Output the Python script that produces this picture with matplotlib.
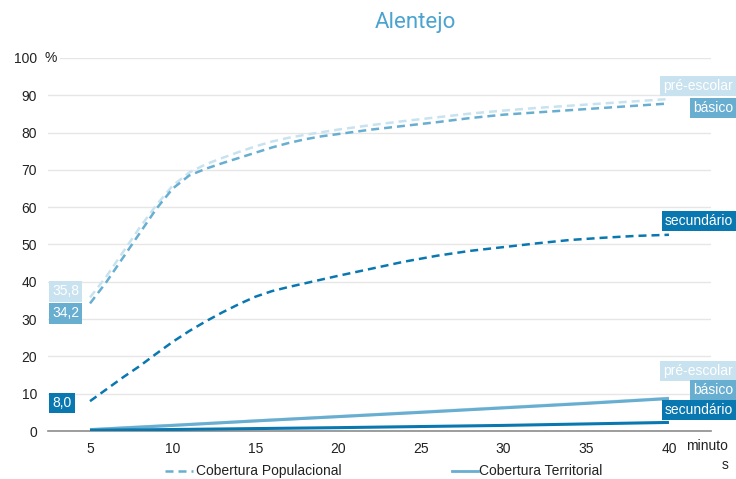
import matplotlib
matplotlib.use("Agg")
import matplotlib.pyplot as plt
from matplotlib import transforms

plt.rcParams['font.family'] = ['Liberation Sans', 'DejaVu Sans']

# Minutes of travel time (population coverage readings)
minutes = [5, 6, 7, 8, 9, 10, 11, 12, 13, 14, 15, 16, 17, 18, 19, 20,
           22, 24, 26, 28, 30, 32, 34, 36, 38, 40]

# Population coverage (%) by school level
pop_pre = [35.8, 41.5, 48.0, 54.5, 60.5, 65.8, 69.3, 71.5, 73.2, 74.8, 76.3,
           77.6, 78.6, 79.4, 80.1, 80.8, 82.0, 83.1, 84.1, 85.1, 85.9, 86.6,
           87.2, 87.8, 88.4, 89.0]
pop_bas = [34.2, 40.0, 46.5, 53.0, 59.5, 65.0, 68.5, 70.3, 71.8, 73.2, 74.6,
           76.0, 77.2, 78.2, 79.0, 79.6, 80.8, 81.8, 82.8, 83.9, 84.8, 85.4,
           86.0, 86.6, 87.2, 87.8]
pop_sec = [8.0, 11.2, 14.4, 17.4, 20.7, 23.9, 26.8, 29.4, 31.8, 34.0, 36.0,
           37.5, 38.6, 39.6, 40.6, 41.6, 43.5, 45.4, 47.0, 48.3, 49.3, 50.3,
           51.2, 51.8, 52.3, 52.6]

# Minutes of travel time (territorial coverage readings)
minutes_ter = [5, 10, 15, 20, 25, 30, 35, 40]

# Territorial coverage (%) by school level
ter_pre = [0.4, 1.55, 2.75, 3.9, 5.1, 6.3, 7.5, 8.8]
ter_bas = [0.35, 1.5, 2.7, 3.85, 5.0, 6.2, 7.4, 8.7]
ter_sec = [0.2, 0.4, 0.65, 0.9, 1.2, 1.5, 1.9, 2.3]

levels = ['pré-escolar', 'básico', 'secundário']
colors = ['#c9e2f0', '#68aed1', '#0a78b0']

x_ticks = [5, 10, 15, 20, 25, 30, 35, 40]
y_ticks = [0, 10, 20, 30, 40, 50, 60, 70, 80, 90, 100]

fig = plt.figure(figsize=(7.36, 4.79), dpi=100)
ax = fig.add_axes([0.0652, 0.1002, 0.9008, 0.7788])

ax.set_xlim(2.46, 42.54)
ax.set_ylim(0, 100)
ax.set_yticks(y_ticks)
ax.set_xticks(x_ticks)
ax.tick_params(length=0, labelsize=10, colors='#222222')
ax.tick_params(axis='x', pad=8)
ax.tick_params(axis='y', pad=8)
ax.grid(axis='y', color='#e6e6e6', lw=1)
ax.set_axisbelow(True)
for side in ['top', 'right', 'left']:
    ax.spines[side].set_visible(False)
ax.spines['bottom'].set_color('#8c8c8c')
ax.spines['bottom'].set_linewidth(1.2)

pop = [pop_pre, pop_bas, pop_sec]
ter = [ter_pre, ter_bas, ter_sec]

# Territorial coverage: solid lines
for vals, c in zip(ter, colors):
    ax.plot(minutes_ter, vals, color=c, lw=2.2, solid_capstyle='butt', zorder=3)

# Population coverage: dashed lines
for vals, c in zip(pop, colors):
    ax.plot(minutes, vals, color=c, lw=1.8, dashes=(3.2, 2.0), zorder=4)

# Start-value labels on the left
fx = transforms.blended_transform_factory(fig.transFigure, ax.transData)
left_y = [37.4, 31.5, 7.4]
for vals, c, yy in zip(pop, colors, left_y):
    ax.text(0.071, yy, f"{vals[0]:.1f}".replace('.', ','), transform=fx,
            ha='left', va='center', fontsize=10, color='white',
            bbox=dict(boxstyle='square,pad=0.22', fc=c, ec='none'), zorder=6)

# Level labels on the right
right_pop_y = [92.5, 86.6, 56.3]
right_ter_y = [16.1, 11.0, 5.6]
for lab, c, y1, y2 in zip(levels, colors, right_pop_y, right_ter_y):
    for yy in (y1, y2):
        ax.text(0.996, yy, lab, transform=fx, ha='right', va='center',
                fontsize=10, color='white',
                bbox=dict(boxstyle='square,pad=0.22', fc=c, ec='none'),
                zorder=6, clip_on=False)

# Unit labels
ax.text(0.06, 100, '%', transform=fx, ha='left', va='center', fontsize=10,
        color='#222222', bbox=dict(boxstyle='square,pad=0.25', fc='white', ec='none'))
fig.text(0.932, 0.0689, 'minuto', ha='left', va='center', fontsize=10, color='#222222')
fig.text(0.981, 0.030, 's', ha='left', va='center', fontsize=10, color='#222222')

# Title
fig.text(0.565, 0.953, 'Alentejo', ha='center', va='center', fontsize=16,
         color='#4aa3d0', family=['Roboto', 'DejaVu Sans'])

# Legend
ly = 0.0165
fig.add_artist(plt.Line2D([0.224, 0.262], [ly, ly], transform=fig.transFigure,
                          color=colors[1], lw=1.8, dashes=(3.2, 2.0)))
fig.text(0.266, ly, 'Cobertura Populacional', ha='left', va='center', fontsize=10, color='#222222')
fig.add_artist(plt.Line2D([0.614, 0.650], [ly, ly], transform=fig.transFigure,
                          color=colors[1], lw=2.0))
fig.text(0.651, ly, 'Cobertura Territorial', ha='left', va='center', fontsize=10, color='#222222')

fig.savefig('out.png', dpi=100)
